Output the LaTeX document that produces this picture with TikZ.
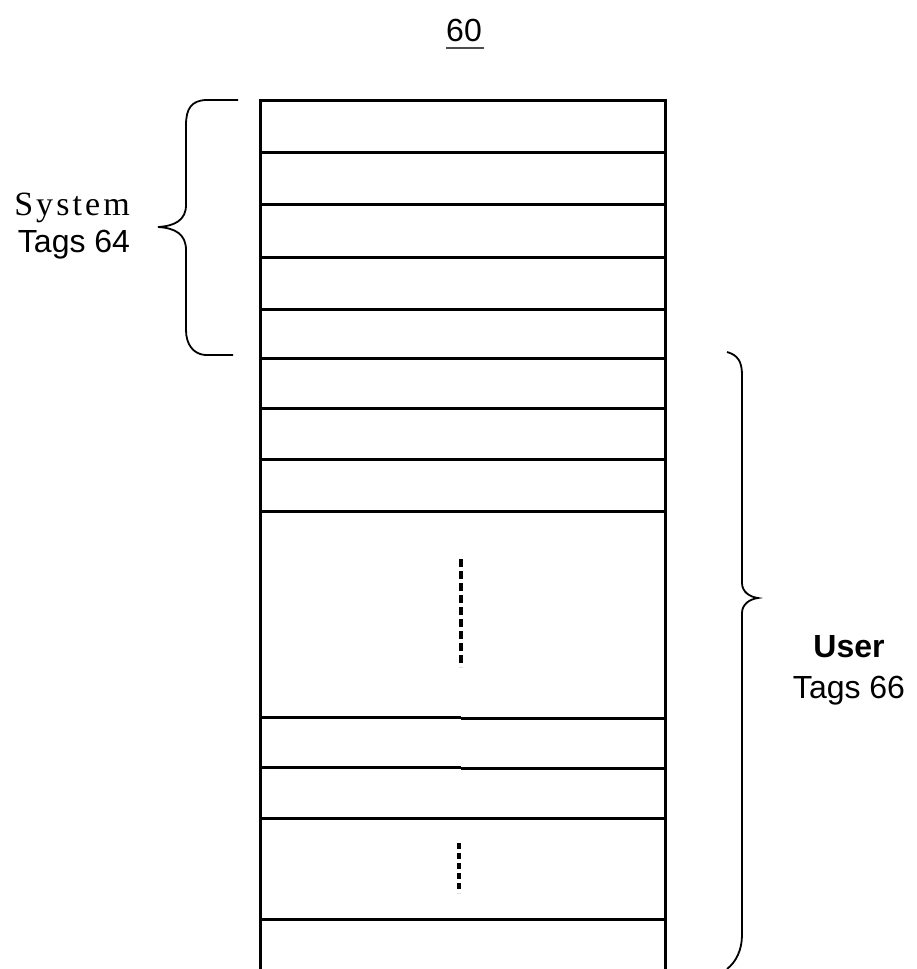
\documentclass[tikz,border=0pt]{standalone}
\usepackage{fontspec}
\setmainfont{Liberation Serif}
\newfontfamily\arialf{Liberation Sans}
\newfontfamily\timesls[LetterSpace=9]{Liberation Serif}
\begin{document}
\begin{tikzpicture}[x=1pt,y=-1pt,
  rowline/.style={line width=3pt},
  bracepath/.style={line width=1.8pt},
  dotsline/.style={line width=4pt,dash pattern=on 8pt off 4pt},
  sanslabel/.style={font=\arialf\fontsize{32}{35}\selectfont,inner sep=0pt},
  serlabel/.style={font=\timesls\fontsize{34}{37}\selectfont,inner sep=0pt}]
\useasboundingbox (0,0) rectangle (916,969);
% table frame
\draw[rowline] (260,969) -- (260,100) -- (665,100) -- (665,969);
\foreach \yy in {152,204,257,309,358,408,459,511,818,919}
  \draw[rowline] (260,\yy) -- (665,\yy);
\draw[rowline] (260,717) -- (461,717);
\draw[rowline] (461,718) -- (665,718);
\draw[rowline] (260,767) -- (461,767);
\draw[rowline] (461,768) -- (665,768);
% dotted vertical marks
\coordinate (d1a) at (461,559);
\coordinate (d1b) at (461,667);
\coordinate (d2a) at (459,843);
\coordinate (d2b) at (459,893);
\draw[dotsline] (d1a) -- (d1b);
\draw[dotsline,dash pattern=on 6pt off 4pt] (d2a) -- (d2b);
% title
\node[sanslabel,anchor=base] (title) at (464,41) {60};
\draw[line width=1.2pt,black!70] (446,48) -- (484,48);
% left brace
\draw[bracepath] (238,100) -- (205,100) .. controls (192,101) and (186,108) .. (186,125)
  -- (186,205) .. controls (186,220) and (175,226) .. (158,227)
  .. controls (175,228) and (186,234) .. (186,250)
  -- (186,330) .. controls (186,344) and (193,354) .. (205,355) -- (233,355);
\node[serlabel,anchor=base] (sys) at (72,215) {System};
\node[sanslabel,anchor=base] (tags64) at (74,252) {Tags 64};
% right brace
\draw[bracepath] (727,352) .. controls (738,355) and (742,362) .. (742,375)
  -- (742,583) .. controls (742,592) and (750,597) .. (758,598)
  .. controls (750,599) and (742,604) .. (742,613)
  -- (742,935) .. controls (742,950) and (736,962) .. (727,969);
\node[sanslabel,font=\arialf\bfseries\fontsize{32}{35}\selectfont,anchor=base] (user) at (849,657) {User};
\node[sanslabel,anchor=base] (tags66) at (849,698) {Tags 66};
\end{tikzpicture}
\end{document}
